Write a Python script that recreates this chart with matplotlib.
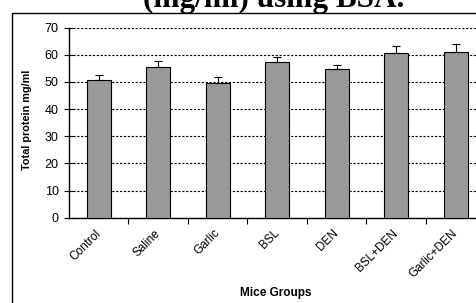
import matplotlib.pyplot as plt
from matplotlib.lines import Line2D
from matplotlib.transforms import ScaledTranslation
import numpy as np

groups = ['Control', 'Saline', 'Garlic', 'BSL', 'DEN', 'BSL+DEN', 'Garlic+DEN']
protein = [50.6, 55.4, 49.6, 57.5, 54.7, 60.6, 60.9]
protein_err = [1.9, 2.2, 2.1, 1.8, 1.6, 2.7, 3.1]
yticks = [0, 10, 20, 30, 40, 50, 60, 70]

plt.rcParams['font.family'] = ['Liberation Sans', 'DejaVu Sans']

W, H = 477, 303
fig = plt.figure(figsize=(W / 100, H / 100), dpi=100)

# outer frame (only top and left edges visible in the crop)
fig.add_artist(Line2D([12.5 / W, 12.5 / W, 1.0], [0.0, 1 - 12.5 / H, 1 - 12.5 / H],
                      transform=fig.transFigure, color='black', lw=1.0))

# title, mostly cut off at the top
fig.text(274 / W, 1 - 6.7 / H, '(mg/ml) using BSA.', ha='center', va='baseline',
         fontsize=22.5, fontweight='bold', family=['Liberation Serif', 'DejaVu Serif'])

left, right, bottom, top = 69, 485.5, 217.7, 27.7
ax = fig.add_axes([left / W, 1 - bottom / H, (right - left) / W, (bottom - top) / H])

x = np.arange(len(groups))
ax.bar(x, protein, width=0.4, color='#999999', edgecolor='black', linewidth=0.8, zorder=3)
ax.errorbar(x, protein, yerr=[np.zeros(len(protein_err)), protein_err], fmt='none',
            ecolor='black', elinewidth=0.8, capsize=3, capthick=0.8, zorder=4)

ax.set_xlim(-0.5, len(groups) - 0.5)
ax.set_ylim(0, 70)
ax.set_yticks(yticks)
ax.yaxis.grid(True, color='black', linestyle=(0, (2, 1.5)), linewidth=0.8, zorder=0)
ax.set_axisbelow(True)

ax.set_xticks(x)
ax.set_xticklabels(groups, rotation=45, ha='right', va='center', rotation_mode='anchor', fontsize=8.5)
shift = ScaledTranslation(-2.7 / 100, 0, fig.dpi_scale_trans)
for lbl in ax.get_xticklabels():
    lbl.set_transform(lbl.get_transform() + shift)
ax.set_xticks(np.arange(len(groups)) + 0.5, minor=True)
ax.tick_params(axis='x', which='major', length=0, pad=10)
ax.tick_params(axis='x', which='minor', length=4, width=0.8, direction='out')
ax.tick_params(axis='y', length=7, width=0.8, direction='inout', labelsize=9, pad=4)

for s in ['top', 'right']:
    ax.spines[s].set_visible(False)
for s in ['left', 'bottom']:
    ax.spines[s].set_linewidth(1.0)

fig.text(27 / W, 1 - 120 / H, 'Total protein mg/ml', rotation=90, ha='center', va='center',
         fontsize=7.8, fontweight='bold')
fig.text(276 / W, 1 - 293 / H, 'Mice Groups', ha='center', va='center',
         fontsize=8.5, fontweight='bold')

fig.savefig('out.png', dpi=100)
